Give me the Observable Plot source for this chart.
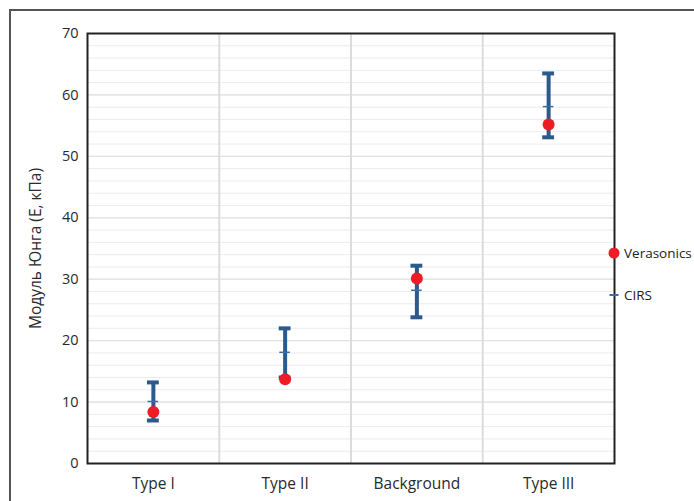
<!DOCTYPE html>
<html><head><meta charset="utf-8">
<script src="https://cdn.jsdelivr.net/npm/d3@7"></script>
<script src="https://cdn.jsdelivr.net/npm/@observablehq/plot@0.6"></script>
<style>
html,body{margin:0;padding:0;background:#fff;overflow:hidden;width:694px;height:501px;}
#wrap{position:relative;width:694px;height:501px;font-family:"Open Sans",sans-serif;}
#outer{position:absolute;left:9px;top:9px;width:720px;height:540px;border:2px solid #555;box-sizing:border-box;}
#chart{position:absolute;left:0;top:0;}
.leg{position:absolute;font-size:13.5px;color:#222;display:flex;align-items:center;}
</style></head>
<body><div id="wrap"><div id="outer"></div><div id="chart"></div>
<div class="leg" style="left:608px;top:244px;"><svg width="14" height="18"><circle cx="6" cy="9" r="5.5" fill="#ee1c24"/></svg><span style="margin-left:2px">Verasonics</span></div>
<div class="leg" style="left:608px;top:286px;"><svg width="14" height="18"><line x1="1.5" x2="10.5" y1="9" y2="9" stroke="#3a6ea5" stroke-width="2"/></svg><span style="margin-left:2px">CIRS</span></div>
</div>
<script>
const categories = ["Type I", "Type II", "Background", "Type III"];
const cirsMean = [10.1, 18.1, 28.2, 58.1];
const cirsLow = [7.0, 14.0, 23.8, 53.1];
const cirsHigh = [13.2, 22.0, 32.2, 63.5];
const verasonics = [8.4, 13.7, 30.1, 55.2];
const yTicks = [0, 10, 20, 30, 40, 50, 60, 70];
const yMinor = d3.range(0, 71, 2);

const data = categories.map((c, i) => ({cat: c, pos: i + 0.5, mean: cirsMean[i], lo: cirsLow[i], hi: cirsHigh[i], v: verasonics[i]}));
const blue = "#2c5a8c";
const capHalf = 0.045, meanHalf = 0.04;

const chart = Plot.plot({
  width: 694, height: 501,
  marginLeft: 87, marginRight: 80, marginTop: 33, marginBottom: 38,
  style: {fontFamily: "Open Sans, sans-serif", fontSize: "14px", color: "#2a2a2a", background: "transparent"},
  x: {domain: [0, categories.length], axis: null},
  y: {domain: [0, 70], axis: null},
  marks: [
    Plot.ruleY(yMinor, {stroke: "#ececec", strokeWidth: 1}),
    Plot.ruleY(yTicks, {stroke: "#e2e2e2", strokeWidth: 1.2}),
    Plot.ruleX(d3.range(1, categories.length), {stroke: "#dcdcdc", strokeWidth: 2}),
    Plot.axisY(yTicks, {tickSize: 0, tickPadding: 9, fontSize: 14.5, label: null}),
    Plot.axisY({label: "Модуль Юнга (Е, кПа)", ticks: [], tickSize: 0, fontSize: 15.5, labelAnchor: "center", labelArrow: "none", labelOffset: 58}),
    Plot.axisX(data.map(d => d.pos), {tickSize: 0, tickPadding: 14, fontSize: 15.5, tickFormat: (d, i) => categories[i], label: null}),
    Plot.frame({stroke: "#222", strokeWidth: 2}),
    Plot.ruleX(data, {x: "pos", y1: "lo", y2: "hi", stroke: blue, strokeWidth: 4}),
    Plot.ruleY(data, {y: "hi", x1: d => d.pos - capHalf, x2: d => d.pos + capHalf, stroke: blue, strokeWidth: 4}),
    Plot.ruleY(data, {y: "lo", x1: d => d.pos - capHalf, x2: d => d.pos + capHalf, stroke: blue, strokeWidth: 4}),
    Plot.ruleY(data, {y: "mean", x1: d => d.pos - meanHalf, x2: d => d.pos + meanHalf, stroke: "#3a6ea5", strokeWidth: 1.5}),
    Plot.dot(data, {x: "pos", y: "v", r: 6, fill: "#ee1c24", stroke: "none"})
  ]
});
document.getElementById("chart").appendChild(chart);
</script></body></html>
